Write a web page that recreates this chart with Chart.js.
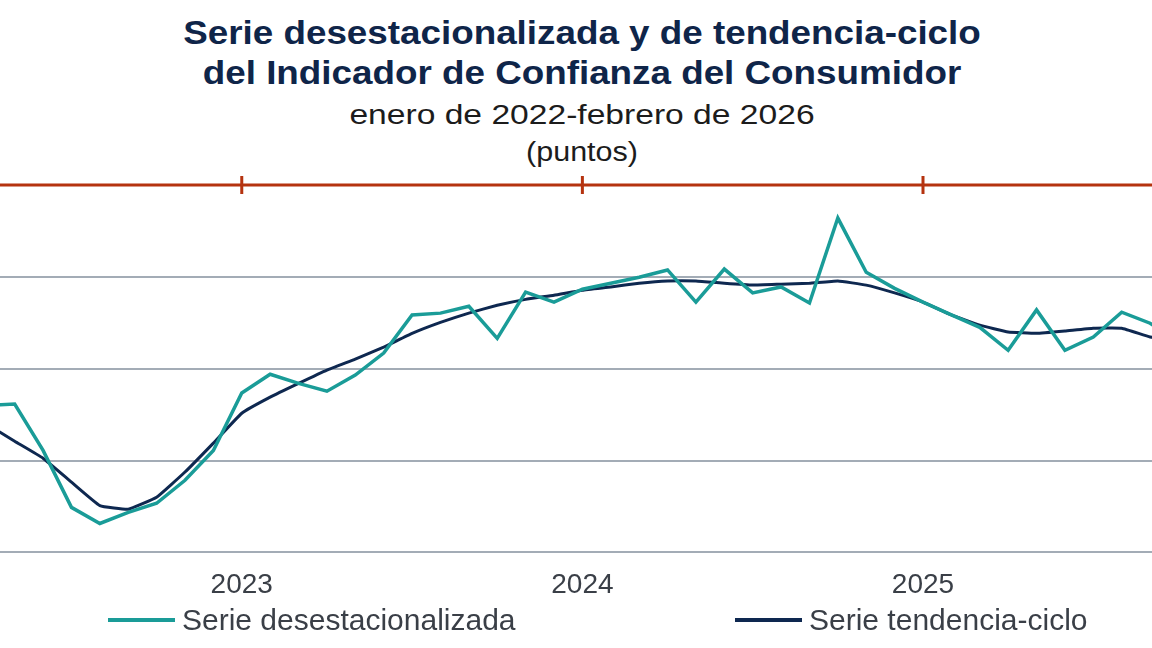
<!DOCTYPE html>
<html>
<head>
<meta charset="utf-8">
<script src="https://cdn.jsdelivr.net/npm/chart.js@4"></script>
<style>
  body { margin: 0; width: 1152px; height: 648px; overflow: hidden; background: #fff; position: relative; font-family: "Liberation Sans", Arial, sans-serif; }
  #wrap { position: absolute; left: -138px; top: 0; width: 1462px; height: 648px; }
  .t { position: absolute; left: 0; width: 1164px; text-align: center; white-space: nowrap; }
  #t1 { top: 14px; font-size: 33px; font-weight: bold; color: #0f2549; transform: scaleX(1.115); }
  #t2 { top: 54px; font-size: 33px; font-weight: bold; color: #0f2549; transform: scaleX(1.115); }
  #t3 { top: 99px; font-size: 28px; color: #1c1c1c; transform: scaleX(1.2); }
  #t4 { top: 137px; font-size: 27px; color: #1c1c1c; transform: scaleX(1.13); }
  .leg { position: absolute; top: 603px; font-size: 30px; color: #3a3f47; white-space: nowrap; }
  .leg span { display: inline-block; width: 67px; height: 4px; vertical-align: middle; margin-right: 7px; position: relative; top: -2px; }
</style>
</head>
<body>
<div id="t1" class="t">Serie desestacionalizada y de tendencia-ciclo</div>
<div id="t2" class="t">del Indicador de Confianza del Consumidor</div>
<div id="t3" class="t">enero de 2022-febrero de 2026</div>
<div id="t4" class="t">(puntos)</div>
<div id="wrap"><canvas id="icc" width="1462" height="648"></canvas></div>
<div class="leg" style="left:108px"><span style="background:#1a9c98"></span>Serie desestacionalizada</div>
<div class="leg" style="left:735px"><span style="background:#0e2850"></span>Serie tendencia-ciclo</div>
<script>
// meses ene 2022 - feb 2026
const months = [
  '2022-01','2022-02','2022-03','2022-04','2022-05','2022-06','2022-07','2022-08','2022-09','2022-10','2022-11','2022-12',
  '2023-01','2023-02','2023-03','2023-04','2023-05','2023-06','2023-07','2023-08','2023-09','2023-10','2023-11','2023-12',
  '2024-01','2024-02','2024-03','2024-04','2024-05','2024-06','2024-07','2024-08','2024-09','2024-10','2024-11','2024-12',
  '2025-01','2025-02','2025-03','2025-04','2025-05','2025-06','2025-07','2025-08','2025-09','2025-10','2025-11','2025-12',
  '2026-01','2026-02'
];

const desest = [
  43.8, 43.3, 43.5, 43.2, 43.23, 42.22, 40.98, 40.63, 40.87, 41.07, 41.57, 42.22,
  43.47, 43.88, 43.68, 43.51, 43.86, 44.34, 45.17, 45.21, 45.36, 44.66, 45.67, 45.45,
  45.73, 45.86, 45.99, 46.15, 45.45, 46.17, 45.65, 45.78, 45.43, 47.28, 46.10, 45.75,
  45.45, 45.17, 44.90, 44.40, 45.28, 44.40, 44.69, 45.23, 44.99, 44.6, 44.4, 44.9,
  44.5, 44.7
];

const tendencia = [
  44.0, 43.6, 43.2, 42.8, 42.42, 42.05, 41.53, 41.02, 40.94, 41.20, 41.75, 42.38,
  43.03, 43.38, 43.68, 43.97, 44.21, 44.47, 44.77, 45.01, 45.21, 45.38, 45.51, 45.60,
  45.71, 45.78, 45.86, 45.91, 45.91, 45.86, 45.82, 45.84, 45.86, 45.91, 45.82, 45.65,
  45.45, 45.17, 44.95, 44.80, 44.77, 44.82, 44.88, 44.88, 44.69, 44.6, 44.6, 44.6,
  44.65, 44.7
];

const yTicks = [40, 42, 44, 46, 48];

// linea roja superior con marcas en cada enero
const topAxis = {
  id: 'topAxis',
  beforeDatasetsDraw(chart) {
    const { ctx, chartArea, scales } = chart;
    const y = scales.y.getPixelForValue(yTicks[yTicks.length - 1]);
    ctx.save();
    ctx.strokeStyle = '#b5330f';
    ctx.lineWidth = 3;
    ctx.beginPath();
    ctx.moveTo(chartArea.left - 40, y);
    ctx.lineTo(chartArea.right + 40, y);
    ctx.stroke();
    months.forEach((m, i) => {
      if (m.endsWith('-01')) {
        const x = scales.x.getPixelForValue(i);
        ctx.beginPath();
        ctx.moveTo(x, y - 9);
        ctx.lineTo(x, y + 9);
        ctx.stroke();
      }
    });
    ctx.restore();
  }
};

const ctx = document.getElementById('icc');
const iccChart = new Chart(ctx, {
  type: 'line',
  data: {
    labels: months,
    datasets: [
      { label: 'Serie desestacionalizada', data: desest, borderColor: '#1a9c98', borderWidth: 3.5, pointRadius: 0, tension: 0 },
      { label: 'Serie tendencia-ciclo', data: tendencia, borderColor: '#0e2850', borderWidth: 3, pointRadius: 0, tension: 0.1 }
    ]
  },
  options: {
    responsive: false,
    animation: false,
    layout: { padding: { left: 24, right: 32, top: 185, bottom: 38 } },
    plugins: { legend: { display: false }, title: { display: false }, tooltip: { enabled: false } },
    scales: {
      x: {
        grid: { display: false },
        border: { display: false },
        ticks: {
          autoSkip: false,
          maxRotation: 0,
          padding: 8,
          color: '#3a3f47',
          font: { family: 'Liberation Sans', size: 28 },
          callback: function(v, i) { return months[i].endsWith('-01') ? months[i].slice(0, 4) : ''; }
        }
      },
      y: {
        min: 40, max: 48,
        afterBuildTicks: (axis) => { axis.ticks = yTicks.map(v => ({ value: v })); },
        ticks: { display: false },
        border: { display: false },
        grid: {
          drawTicks: false,
          lineWidth: 2,
          color: (c) => c.tick && c.tick.value === 48 ? 'rgba(0,0,0,0)' : '#a3acb6'
        }
      }
    }
  },
  plugins: [topAxis]
});
</script>
</body>
</html>
